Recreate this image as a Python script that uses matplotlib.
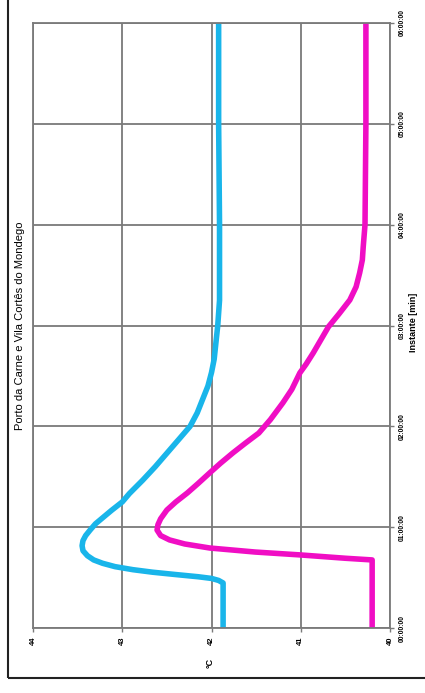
import matplotlib

matplotlib.use("Agg")
import matplotlib.pyplot as plt
from matplotlib.patches import Rectangle

plt.rcParams["font.family"] = ["Liberation Sans", "DejaVu Sans"]

TITLE = "Porto da Carne e Vila Cortês do Mondego"

# time in minutes, temperature in degC
porto_t = [0, 26.8, 28.3, 29.5, 30.5, 31.8, 33.2, 34.7, 36.5, 38.5, 40.5, 43.0,
           46.0, 49.0, 52.0, 55.0, 58.3, 62, 66, 70, 75, 80, 88, 96, 104, 112,
           120, 128, 136, 144, 152, 160, 170, 180, 195, 240, 300, 360]
porto_temp = [41.87, 41.87, 41.92, 42.00, 42.15, 42.40, 42.66, 42.88, 43.08, 43.22,
              43.32, 43.39, 43.44, 43.45, 43.44, 43.41, 43.36, 43.30, 43.21, 43.12,
              43.00, 42.92, 42.77, 42.63, 42.50, 42.37, 42.24, 42.16, 42.10, 42.04,
              42.00, 41.97, 41.95, 41.93, 41.91, 41.91, 41.92, 41.92]

vila_t = [0, 40.5, 41.5, 43.5, 45.2, 47.6, 50.0, 52.4, 55.0, 58.3, 61.5, 65.0,
          70.2, 75.0, 80.4, 86.0, 92.3, 98.0, 104.2, 110.0, 116.0, 124.0, 134.0,
          142.0, 151.8, 157.0, 163.7, 171.0, 179.2, 187.0, 195.2, 203.0, 211.3,
          219.0, 226.8, 240.0, 300.0, 360.0]
vila_temp = [40.20, 40.20, 40.50, 41.01, 41.51, 42.02, 42.30, 42.47, 42.57, 42.61,
             42.60, 42.57, 42.50, 42.40, 42.27, 42.15, 42.02, 41.90, 41.76, 41.62,
             41.47, 41.34, 41.20, 41.10, 41.01, 40.94, 40.86, 40.78, 40.69, 40.57,
             40.45, 40.38, 40.34, 40.31, 40.30, 40.28, 40.27, 40.27]

time_ticks = [0, 60, 120, 180, 240, 300, 360]
time_labels = ["00:00:00", "01:00:00", "02:00:00", "03:00:00",
               "04:00:00", "05:00:00", "06:00:00"]
temp_ticks = [44, 43, 42, 41, 40]

BLUE = "#19b5ea"
MAGENTA = "#f00ec4"
GRID = "#7a7a7a"

fig = plt.figure(figsize=(4.25, 6.93), dpi=100)
fig.patch.set_facecolor("white")

# outer frame
fig.patches.append(Rectangle((8 / 425, 15 / 693), 1.2, 1.2, transform=fig.transFigure,
                             fill=False, edgecolor="#222222", linewidth=1.5))

ax = fig.add_axes([33 / 425, 65 / 693, 357 / 425, 605 / 693])
ax.plot(porto_temp, porto_t, color=BLUE, linewidth=4, solid_joinstyle="round",
        solid_capstyle="butt")
ax.plot(vila_temp, vila_t, color=MAGENTA, linewidth=4, solid_joinstyle="round",
        solid_capstyle="butt")

ax.set_xlim(44, 40)
ax.set_ylim(0, 360)
ax.set_xticks(temp_ticks)
ax.set_xticklabels([str(v) for v in temp_ticks], rotation=90, fontsize=5.5,
                   fontweight="bold", va="top", ha="center")
ax.set_yticks(time_ticks)
ax.yaxis.tick_right()
ax.set_yticklabels(time_labels, rotation=90, fontsize=4.8, fontweight="bold",
                   va="center", ha="left")
ax.tick_params(axis="both", length=3, width=1, color=GRID, pad=3)
ax.grid(True, color=GRID, linewidth=1.3)
ax.set_axisbelow(True)
for sp in ax.spines.values():
    sp.set_color(GRID)
    sp.set_linewidth(1.3)

fig.text(210 / 425, 1 - 663 / 693, "°C", rotation=90, fontsize=6.5, fontweight="bold",
         ha="center", va="center")
fig.text(413 / 425, 1 - 322 / 693, "Instante [min]", rotation=90, fontsize=6.5,
         fontweight="bold", ha="center", va="center")
fig.text(20 / 425, 1 - 326 / 693, TITLE, rotation=90, fontsize=8,
         ha="center", va="center")

fig.savefig("out.png", dpi=100, facecolor="white")
